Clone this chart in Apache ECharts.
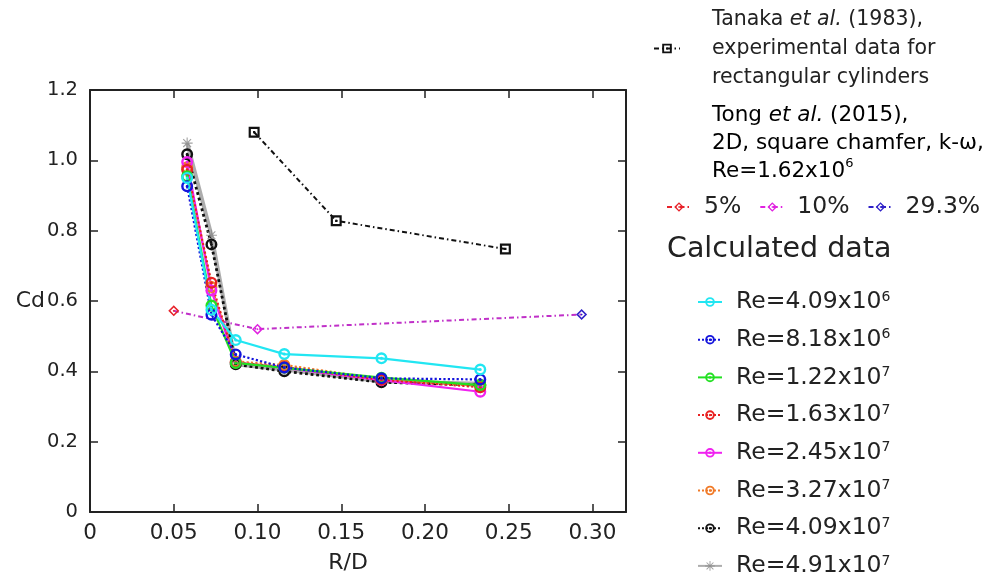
<!DOCTYPE html>
<html>
<head>
<meta charset="utf-8">
<script src="https://cdn.jsdelivr.net/npm/echarts@6/dist/echarts.min.js"></script>
<style>
  html, body { margin: 0; padding: 0; background: #fff; }
  #chart { width: 1002px; height: 584px; }
</style>
</head>
<body>
<div id="chart"></div>
<script>
// ---- data ----
var xTicks = [0, 0.05, 0.10, 0.15, 0.20, 0.25, 0.30];
var yTicks = [0, 0.2, 0.4, 0.6, 0.8, 1.0, 1.2];

// Tanaka et al. (1983)
var tanakaX = [0.098, 0.147, 0.248];
var tanakaY = [1.080, 0.828, 0.748];

// Tong et al. (2015)
var tongX = [0.050, 0.100, 0.2935];
var tongY = [0.572, 0.520, 0.5615];
var tongNames = ['5%', '10%', '29.3%'];

// calculated data
var calcX = [0.058, 0.0725, 0.087, 0.116, 0.174, 0.233];
var calcNames = ['Re=4.09x10^6', 'Re=8.18x10^6', 'Re=1.22x10^7', 'Re=1.63x10^7',
                 'Re=2.45x10^7', 'Re=3.27x10^7', 'Re=4.09x10^7', 'Re=4.91x10^7'];
var re409e6 = [0.950, 0.575, 0.489, 0.449, 0.437, 0.405];
var re818e6 = [0.926, 0.561, 0.448, 0.411, 0.380, 0.377];
var re122e7 = [0.955, 0.587, 0.424, 0.410, 0.382, 0.361];
var re163e7 = [0.973, 0.652, 0.425, 0.412, 0.376, 0.355];
var re245e7 = [0.995, 0.630, 0.425, 0.410, 0.375, 0.342];
var re327e7 = [0.980, 0.640, 0.428, 0.418, 0.378, 0.358];
var re409e7 = [1.017, 0.761, 0.420, 0.400, 0.369, 0.361];
var re491e7 = [1.049, 0.787, 0.420, 0.405, 0.372, 0.365];
var calcValues = [re409e6, re818e6, re122e7, re163e7, re245e7, re327e7, re409e7, re491e7];

// ---- styles ----
var FONT = 'DejaVu Sans';
var TXT = '#222';
var ringDot = 'path://M10,0A10,10,0,1,1,10,20A10,10,0,1,1,10,0ZM10,4A6,6,0,1,0,10,16A6,6,0,1,0,10,4ZM10,7.5A2.5,2.5,0,1,1,10,12.5A2.5,2.5,0,1,1,10,7.5Z';
var diamondDot = 'path://M10,0L20,10L10,20L0,10ZM10,4L4,10L10,16L16,10ZM10,8L12,10L10,12L8,10Z';
var squareDot = 'path://M0,0H20V20H0ZM4,4V16H16V4ZM8,8H12V12H8Z';
var star = 'path://M9,0H11V20H9ZM0,9H20V11H0ZM2.2,3.6L3.6,2.2L17.8,16.4L16.4,17.8ZM16.4,2.2L17.8,3.6L3.6,17.8L2.2,16.4Z';

var calcColors = ['#22e6f2', '#1414dc', '#22e022', '#e82222', '#f022f0', '#f07a28', '#111111', '#8a8a8a'];
var calcLine = ['solid', 'dotted', 'solid', 'dotted', 'solid', 'dotted', 'dotted', 'solid'];
var calcWidth = [2.2, 2.2, 2.2, 2.2, 2.2, 2.2, 2.8, 4];
var tongColors = ['#e8222a', '#e022e0', '#3022c8'];
var dashDot = [5, 3, 1.5, 3];

function pairs(xs, ys) {
    var out = [];
    for (var i = 0; i < xs.length; i++) out.push([xs[i], ys[i]]);
    return out;
}

var series = [];

// Tong connecting line (no legend)
series.push({
    name: 'Tong line',
    type: 'line',
    data: pairs(tongX, tongY),
    showSymbol: false,
    lineStyle: { color: '#c030c8', width: 2, type: dashDot },
    z: 2
});
// Tong markers
for (var t = 0; t < tongX.length; t++) {
    series.push({
        name: tongNames[t],
        type: 'line',
        data: [[tongX[t], tongY[t]]],
        symbol: diamondDot,
        symbolSize: 11,
        itemStyle: { color: tongColors[t] },
        lineStyle: { color: tongColors[t], width: 1.6, type: dashDot },
        z: 3
    });
}

// calculated series, grey first so the black dotted sits on top
for (var k = calcNames.length - 1; k >= 0; k--) {
    series.push({
        name: calcNames[k],
        type: 'line',
        data: pairs(calcX, calcValues[k]),
        symbol: k === 7 ? star : ringDot,
        symbolSize: k === 7 ? 11 : 12,
        itemStyle: { color: calcColors[k], opacity: k === 7 ? 0.8 : 1 },
        lineStyle: { color: calcColors[k], width: calcWidth[k], type: calcLine[k], opacity: k === 7 ? 0.7 : 1 },
        z: 4
    });
}

// Tanaka
series.push({
    name: 'Tanaka',
    type: 'line',
    data: pairs(tanakaX, tanakaY),
    symbol: squareDot,
    symbolSize: 11,
    itemStyle: { color: '#111' },
    lineStyle: { color: '#111', width: 2, type: dashDot },
    z: 5
});

var supRich = {
    b: { fontFamily: FONT, fontSize: 23.5, color: TXT, lineHeight: 24 },
    s: { fontFamily: FONT, fontSize: 14, color: TXT, lineHeight: 12, verticalAlign: 'top' }
};

function supText(name) {
    var p = name.split('^');
    return '{b|' + p[0] + '}{s|' + p[1] + '}';
}

var axisLineStyle = { color: '#222', width: 2 };
var tickStyle = { color: '#222', width: 1.5 };

var option = {
    animation: false,
    backgroundColor: '#fff',
    grid: { left: 90, right: 376, top: 90, bottom: 72 },
    xAxis: [{
        type: 'value',
        min: 0, max: 0.32, interval: 0.05,
        name: 'R/D', nameLocation: 'middle', nameGap: 40,
        nameTextStyle: { fontFamily: FONT, fontSize: 22, color: TXT, padding: [0, 20, 0, 0] },
        axisLine: { onZero: false, lineStyle: axisLineStyle },
        axisTick: { inside: true, length: 8, lineStyle: tickStyle },
        axisLabel: {
            fontFamily: FONT, fontSize: 21.5, color: TXT, margin: 10, showMaxLabel: false,
            formatter: function (v) { return v === 0 ? '0' : v.toFixed(2); }
        },
        splitLine: { show: false }
    }, {
        type: 'value', position: 'top',
        min: 0, max: 0.32, interval: 0.05,
        axisLine: { show: true, onZero: false, lineStyle: axisLineStyle },
        axisTick: { show: true, inside: true, length: 8, lineStyle: tickStyle },
        axisLabel: { show: false },
        splitLine: { show: false }
    }],
    yAxis: [{
        type: 'value',
        min: 0, max: 1.2, interval: 0.2,
        name: 'Cd', nameLocation: 'middle', nameRotate: 0, nameGap: 45,
        nameMoveOverlap: false,
        nameTextStyle: { fontFamily: FONT, fontSize: 22, color: TXT },
        axisLine: { show: true, onZero: false, lineStyle: axisLineStyle },
        axisTick: { show: true, inside: true, length: 8, lineStyle: tickStyle },
        axisLabel: {
            fontFamily: FONT, fontSize: 19.5, color: TXT, margin: 12,
            formatter: function (v) { return v === 0 ? '0' : v.toFixed(1); }
        },
        splitLine: { show: false }
    }, {
        type: 'value', position: 'right',
        min: 0, max: 1.2, interval: 0.2,
        axisLine: { show: true, onZero: false, lineStyle: axisLineStyle },
        axisTick: { show: true, inside: true, length: 8, lineStyle: tickStyle },
        axisLabel: { show: false },
        splitLine: { show: false }
    }],
    legend: [{
        data: ['Tanaka'],
        left: 648, top: 4,
        itemWidth: 26, itemHeight: 12,
        selectedMode: false,
        formatter: function () {
            return '{t|Tanaka }{i|et al.}{t| (1983),}\n{t|experimental data for}\n{t|rectangular cylinders}';
        },
        textStyle: {
            padding: [0, 0, 0, 27],
            rich: {
                t: { fontFamily: FONT, fontSize: 20.5, color: TXT, lineHeight: 29 },
                i: { fontFamily: FONT, fontSize: 20.5, color: TXT, lineHeight: 29, fontStyle: 'italic' }
            }
        }
    }, {
        data: tongNames,
        left: 661, top: 190,
        itemWidth: 24, itemHeight: 12, itemGap: 18,
        selectedMode: false,
        textStyle: { fontFamily: FONT, fontSize: 23.5, color: TXT, padding: [0, 0, 0, 8] }
    }, {
        data: calcNames,
        orient: 'vertical',
        left: 692, top: 285,
        itemWidth: 24, itemHeight: 12, itemGap: 13.7,
        selectedMode: false,
        formatter: supText,
        textStyle: { padding: [0, 0, 0, 9], rich: supRich }
    }],
    graphic: [{
        type: 'text',
        left: 712, top: 104,
        style: {
            text: '{t|Tong }{i|et al.}{t| (2015),}\n{t|2D, square chamfer, k-ω,}\n{t|Re=1.62x10}{s|6}',
            rich: {
                t: { fontFamily: FONT, fontSize: 21.5, color: TXT, lineHeight: 28 },
                i: { fontFamily: FONT, fontSize: 21.5, color: TXT, lineHeight: 28, fontStyle: 'italic' },
                s: { fontFamily: FONT, fontSize: 13, color: TXT, lineHeight: 16, verticalAlign: 'top' }
            }
        }
    }, {
        type: 'text',
        left: 667, top: 235,
        style: { text: 'Calculated data', fontFamily: FONT, fontSize: 28.5, fill: TXT }
    }],
    series: series
};

var myChart = echarts.init(document.getElementById('chart'));
myChart.setOption(option);
</script>
</body>
</html>
